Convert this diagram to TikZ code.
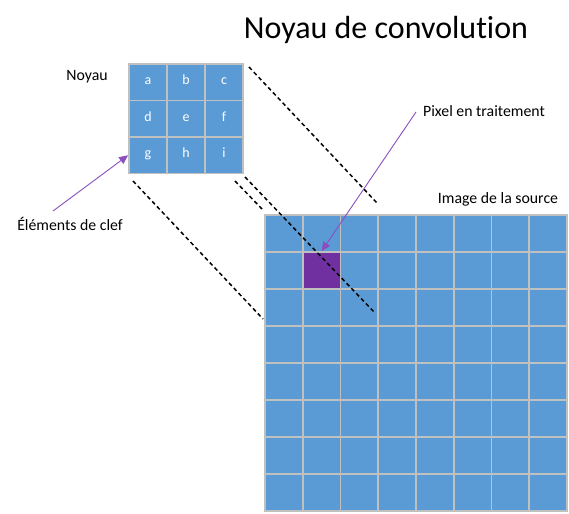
\documentclass[tikz,border=0pt]{standalone}
\usepackage{fontspec}
\setmainfont{Carlito}[Ligatures=NoCommon]
\usetikzlibrary{arrows.meta}
\definecolor{cellblue}{HTML}{5B9BD5}
\definecolor{gridgray}{HTML}{C0C0C0}
\definecolor{pxpurple}{HTML}{7030A0}
\definecolor{arrowpurple}{HTML}{8A4FBF}
\tikzset{
  cell/.style={draw=gridgray, line width=1.8pt, fill=cellblue, inner sep=0pt,
    text=white, font=\fontsize{14}{16}\selectfont, text height=1ex, text depth=0pt},
  hot/.style={cell, fill=pxpurple},
  label/.style={inner sep=0pt, font=\fontsize{15.8}{18}\selectfont},
  guide/.style={line width=1.5pt, dash pattern=on 4pt off 3pt, black},
  pointer/.style={arrowpurple, line width=0.9pt, -{Triangle[length=9pt,width=8pt]}}
}
\begin{document}
\begin{tikzpicture}[x=1pt,y=-1pt]
  \useasboundingbox (0,0) rectangle (569,513);
  % title
  \node[inner sep=0pt, font=\fontsize{32}{36}\selectfont] (title) at (386,30) {Noyau de convolution};
  % 3x3 kernel
  \foreach \r [count=\i from 0] in {{a,b,c},{d,e,f},{g,h,i}} {
    \foreach \l [count=\j from 0] in \r {
      \node[cell, minimum width=38pt, minimum height=36.5pt] (k-\l)
        at (148+38*\j, 82.25+36.5*\i) {\l};
    }
  }
  \node[label] (noyau) at (87,77) {Noyau};
  % 8x8 source image
  \foreach \i in {0,...,7} {
    \foreach \j in {0,...,7} {
      \node[cell, minimum width=37.75pt, minimum height=37pt] (p-\i-\j)
        at (283.875+37.75*\j, 233.5+37*\i) {};
    }
  }
  \node[hot, minimum width=37.75pt, minimum height=37pt] (pixel) at (p-1-1) {};
  \node[label] (source) at (498,199) {Image de la source};
  \node[label] (traite) at (484,111) {Pixel en traitement};
  \node[label] (clef) at (70,224) {Éléments de clef};
  % projection guides
  \coordinate (g1a) at (249,67);  \coordinate (g1b) at (377,203);
  \coordinate (g2a) at (133,181); \coordinate (g2b) at (263,319);
  \coordinate (g3a) at (235,181); \coordinate (g3b) at (262,209);
  \coordinate (g4a) at (245,177); \coordinate (g4b) at (375,313);
  \draw[guide] (g1a) -- (g1b);
  \draw[guide] (g2a) -- (g2b);
  \draw[guide] (g3a) -- (g3b);
  \draw[guide] (g4a) -- (g4b);
  % pointers
  \coordinate (clefTail) at (53,211);
  \coordinate (pixTail) at (416,112);
  \draw[pointer] (clefTail) -- (k-g.west);
  \draw[pointer] (pixTail) -- (pixel.north);
\end{tikzpicture}
\end{document}
